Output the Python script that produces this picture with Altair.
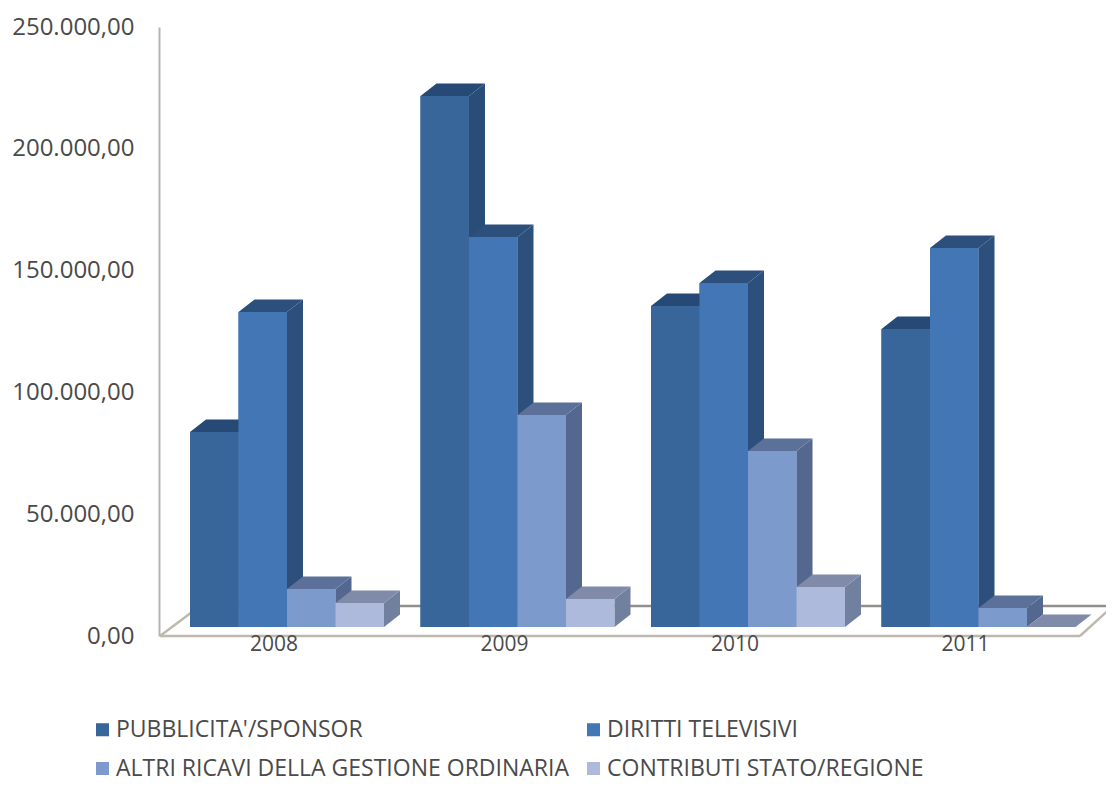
import altair as alt
import pandas as pd

years = ["2008", "2009", "2010", "2011"]
series = ["PUBBLICITA'/SPONSOR", "DIRITTI TELEVISIVI",
          "ALTRI RICAVI DELLA GESTIONE ORDINARIA", "CONTRIBUTI STATO/REGIONE"]
pubblicita = [80000, 218000, 131800, 122300]
diritti = [129300, 160100, 141200, 155600]
altri = [15600, 87000, 72250, 7800]
contributi = [9850, 11500, 16400, 0]
tick_values = [0, 50000, 100000, 150000, 200000, 250000]
tick_labels = ["0,00", "50.000,00", "100.000,00", "150.000,00", "200.000,00", "250.000,00"]
front_colors = ["#38659A", "#4276B4", "#7D9ACC", "#AEBADB"]
top_colors = ["#264A75", "#2C4F7C", "#5C7199", "#7F8BA8"]
side_colors = ["#2A4D78", "#2C4F7C", "#54688F", "#72809F"]

# layout in axis units
PX = 250000 / 609            # value units per pixel
W, H = 955, 609
SLOT = 48.5
U_MAX = W / SLOT
DX = 16 / SLOT
DY = 12.5 * PX
BASE = 9 * PX
START = 31 / SLOT
GROUP = 230.5 / SLOT

all_vals = [pubblicita, diritti, altri, contributi]
faces, bars = [], []
n = 0
for i, yr in enumerate(years):
    for j, s in enumerate(series):
        v = all_vals[j][i] + BASE
        x0 = START + GROUP * i + j
        x1 = x0 + 1
        bars.append(dict(x=x0, x2=x1, y=BASE, y2=v, series=s))
        def add(kind, col, pts):
            for px, lo, hi in pts:
                faces.append(dict(face=f"{n:03d}{kind}", fill=col, x=px, y=lo, y2=hi))
        add("a", side_colors[j], [(x1, BASE, v), (x1 + DX, BASE + DY, v + DY)])
        add("b", top_colors[j], [(x0, v, v), (x0 + DX, v, v + DY), (x1, v, v + DY), (x1 + DX, v + DY, v + DY)])
        add("c", front_colors[j], [(x0, BASE, v), (x1, BASE, v)])
        n += 1

x_scale = alt.Scale(domain=[0, U_MAX], nice=False, zero=False)
y_scale = alt.Scale(domain=[0, 250000], nice=False, zero=False)
x_enc = alt.X("x:Q", scale=x_scale, axis=None)

label_expr = "[" + ",".join(f"'{t}'" for t in tick_labels) + "][datum.value/50000]"
FONT = "Open Sans"
TXT = "#4A4A4A"

base_bars = alt.Chart(pd.DataFrame(bars)).mark_bar().encode(
    x=x_enc,
    x2="x2:Q",
    y=alt.Y("y:Q", scale=y_scale, axis=alt.Axis(
        values=tick_values, labelExpr=label_expr, title=None, grid=False, ticks=False,
        domainColor="#B4B4B4", domainWidth=2, labelFont=FONT, labelFontSize=24,
        labelColor=TXT, labelPadding=25)),
    y2="y2:Q",
    color=alt.Color("series:N", scale=alt.Scale(domain=series, range=front_colors), legend=alt.Legend(
        title=None, orient="none", legendX=-68, legendY=691, columns=2, direction="horizontal",
        symbolType="square", symbolSize=170, symbolStrokeWidth=0, labelFont=FONT, labelFontSize=23,
        labelColor=TXT, labelLimit=600, rowPadding=15, columnPadding=13, labelOffset=2)),
)

floor_segments = [
    ("front", "#BDB9AE", 0.02, 160, 1080),
    ("back", "#8F8F8B", 30 * PX, 200, 1113),
]
floor_rows = []
for name, col, val, a, b in floor_segments:
    floor_rows += [dict(k=name, col=col, x=(a - 159) / SLOT, y=val),
                   dict(k=name, col=col, x=(b - 159) / SLOT, y=val)]
floor_rows += [dict(k="left", col="#BDB9AE", x=1 / SLOT, y=0),
               dict(k="left", col="#BDB9AE", x=41 / SLOT, y=30 * PX),
               dict(k="right", col="#BDB9AE", x=(1080 - 159) / SLOT, y=0),
               dict(k="right", col="#BDB9AE", x=(1113 - 159) / SLOT, y=30 * PX)]
floor = alt.Chart(pd.DataFrame(floor_rows)).mark_line(strokeWidth=2.5).encode(
    x=x_enc,
    y=alt.Y("y:Q", scale=y_scale),
    detail="k:N",
    stroke=alt.Stroke("col:N", scale=None),
)

solid = alt.Chart(pd.DataFrame(faces)).mark_area(interpolate="linear", opacity=1).encode(
    x=x_enc,
    y=alt.Y("y:Q", scale=y_scale),
    y2="y2:Q",
    detail="face:N",
    fill=alt.Fill("fill:N", scale=None),
)

year_df = pd.DataFrame({"year": years,
                        "x": [START + GROUP * i + 2 - 13 / SLOT for i in range(len(years))]})
labels = alt.Chart(year_df).mark_text(
    font=FONT, fontSize=21, color=TXT, baseline="middle", align="center"
).encode(x=x_enc, y=alt.value(H + 9), text="year:N")

chart = alt.layer(floor, base_bars, solid, labels).properties(
    width=W, height=H,
    autosize=alt.AutoSizeParams(type="none"),
    padding={"left": 151, "top": 19, "right": -8, "bottom": 146},
    background="white",
).configure_view(stroke=None)

chart.save("out.html", embed_options={"renderer": "svg", "actions": False})
